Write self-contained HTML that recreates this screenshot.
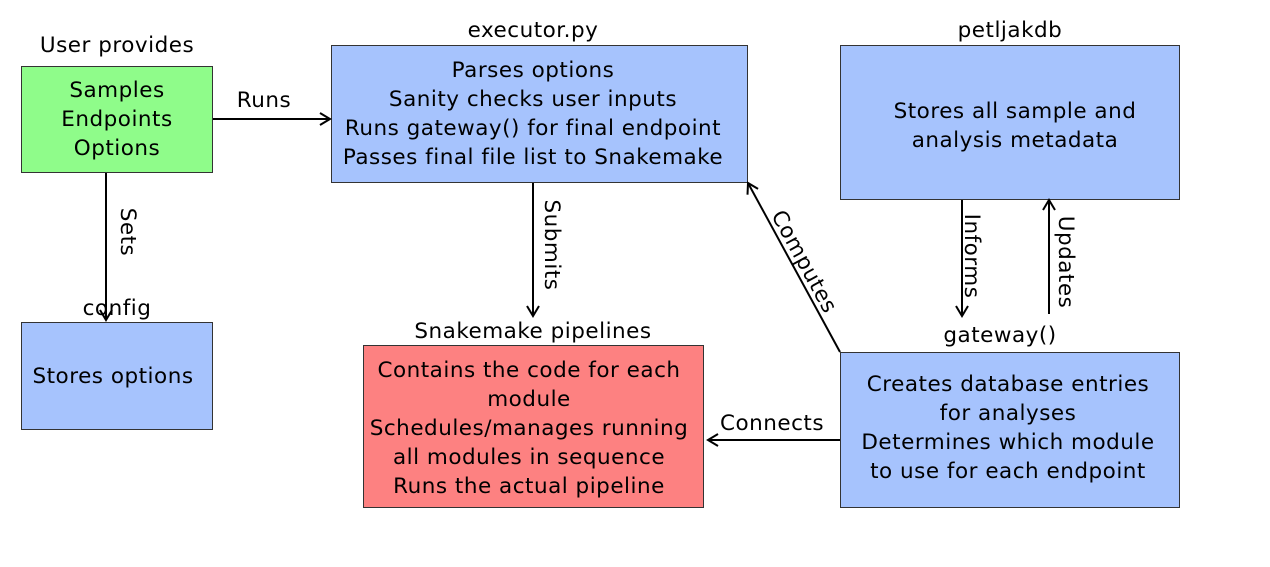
<!DOCTYPE html>
<html><head><meta charset="utf-8"><style>
html,body{margin:0;padding:0;background:#fff;}
svg{display:block;}
text{font-family:"DejaVu Sans","Liberation Sans",sans-serif;font-size:21.5px;letter-spacing:0.5px;fill:#000;}
</style></head><body>
<svg width="1270" height="567" viewBox="0 0 1270 567" xmlns="http://www.w3.org/2000/svg">
<defs>
<marker id="a" markerWidth="14" markerHeight="14" refX="11" refY="7" orient="auto" markerUnits="userSpaceOnUse">
<path d="M1,1 L11,7 L1,13" fill="none" stroke="#000" stroke-width="2"/>
</marker>
</defs>
<g stroke="#333" stroke-width="1">
<rect x="21.5" y="66.5" width="191" height="106" fill="#8ffc8a"/>
<rect x="331.5" y="45.5" width="416" height="137" fill="#a6c3fd"/>
<rect x="840.5" y="45.5" width="339" height="154" fill="#a6c3fd"/>
<rect x="21.5" y="322.5" width="191" height="107" fill="#a6c3fd"/>
<rect x="363.5" y="345.5" width="340" height="162" fill="#fd8181"/>
<rect x="840.5" y="352.5" width="339" height="155" fill="#a6c3fd"/>
</g>
<g text-anchor="middle">
<text x="117" y="52">User provides</text>
<text x="533" y="37">executor.py</text>
<text x="1010" y="37">petljakdb</text>
<text x="117" y="315">config</text>
<text x="533" y="338">Snakemake pipelines</text>
<text x="1000" y="342">gateway()</text>
<text x="117" y="97">Samples</text>
<text x="117" y="126">Endpoints</text>
<text x="117" y="155">Options</text>
<text x="533" y="77">Parses options</text>
<text x="533" y="106">Sanity checks user inputs</text>
<text x="533" y="135">Runs gateway() for final endpoint</text>
<text x="533" y="164">Passes final file list to Snakemake</text>
<text x="1015" y="118">Stores all sample and</text>
<text x="1015" y="147">analysis metadata</text>
<text x="113" y="383">Stores options</text>
<text x="529" y="377">Contains the code for each</text>
<text x="529" y="406">module</text>
<text x="529" y="435">Schedules/manages running</text>
<text x="529" y="464">all modules in sequence</text>
<text x="529" y="493">Runs the actual pipeline</text>
<text x="1008" y="391">Creates database entries</text>
<text x="1008" y="420">for analyses</text>
<text x="1008" y="449">Determines which module</text>
<text x="1008" y="478">to use for each endpoint</text>
<text x="264" y="107">Runs</text>
<text x="772" y="430">Connects</text>
</g>
<g stroke="#000" stroke-width="2" fill="none" marker-end="url(#a)">
<line x1="213" y1="119" x2="330" y2="119"/>
<line x1="106" y1="173" x2="106" y2="320"/>
<line x1="533" y1="183" x2="533" y2="316"/>
<line x1="840" y1="352" x2="748" y2="183"/>
<line x1="962" y1="200" x2="962" y2="316"/>
<line x1="1049" y1="314" x2="1049" y2="200"/>
<line x1="840" y1="440" x2="708" y2="440"/>
</g>
<g text-anchor="middle">
<text transform="translate(121,232) rotate(90)">Sets</text>
<text transform="translate(545,245) rotate(90)">Submits</text>
<text transform="translate(798,265) rotate(61.4)">Computes</text>
<text transform="translate(965,256) rotate(90)">Informs</text>
<text transform="translate(1059,262) rotate(90)">Updates</text>
</g>
</svg>
</body></html>
